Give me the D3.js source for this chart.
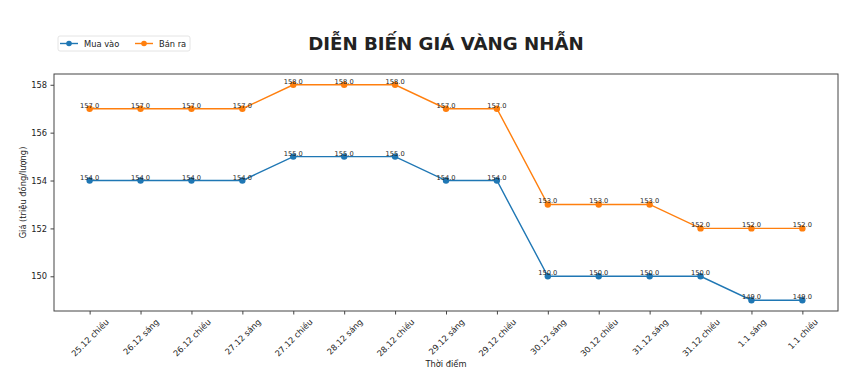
<!DOCTYPE html>
<html lang="vi">
<head>
<meta charset="UTF-8">
<title>Diễn biến giá vàng nhẫn</title>
<script src="https://d3js.org/d3.v7.min.js"></script>
<style>
  body { margin: 0; background: #fff; }
  text { font-family: "DejaVu Sans", sans-serif; fill: #222; }
</style>
</head>
<body>
<script>
const categories = ["25.12 chiều", "26.12 sáng", "26.12 chiều", "27.12 sáng", "27.12 chiều",
  "28.12 sáng", "28.12 chiều", "29.12 sáng", "29.12 chiều", "30.12 sáng", "30.12 chiều",
  "31.12 sáng", "31.12 chiều", "1.1 sáng", "1.1 chiều"];
const muaVao = [154, 154, 154, 154, 155, 155, 155, 154, 154, 150, 150, 150, 150, 149, 149];
const banRa  = [157, 157, 157, 157, 158, 158, 158, 157, 157, 153, 153, 153, 152, 152, 152];
const yTicks = [150, 152, 154, 156, 158];

const width = 868, height = 378;
const m = { left: 54, right: 30, top: 74, bottom: 67 }; // plot box 54..838, 74..311

const svg = d3.select("body").append("svg").attr("width", width).attr("height", height);

// index scale with matplotlib-like 5% padding
const n = categories.length;
const x = d3.scaleLinear().domain([-0.7, n - 1 + 0.7]).range([m.left, width - m.right]);
const y = d3.scaleLinear().domain([148.55, 158.45]).range([height - m.bottom, m.top]);

// axes box
svg.append("rect")
  .attr("x", m.left).attr("y", m.top)
  .attr("width", width - m.left - m.right).attr("height", height - m.top - m.bottom)
  .attr("fill", "none").attr("stroke", "#444").attr("stroke-width", 1);

// y axis
const yAxis = svg.append("g").attr("transform", `translate(${m.left},0)`)
  .call(d3.axisLeft(y).tickValues(yTicks).tickSize(3.5).tickPadding(3.5).tickFormat(d3.format("d")));
yAxis.select(".domain").remove();
yAxis.selectAll("line").attr("stroke", "#444");
yAxis.selectAll("text").attr("font-size", 8.3).attr("font-family", "DejaVu Sans").attr("fill", "#222");

// x axis
const xAxis = svg.append("g").attr("transform", `translate(0,${height - m.bottom})`)
  .call(d3.axisBottom(x).tickValues(d3.range(n)).tickSize(3.5).tickFormat(""));
xAxis.select(".domain").remove();
xAxis.selectAll("line").attr("stroke", "#444");

// rotated tick labels, centered under tick (matplotlib rotation=45)
xAxis.selectAll(".tick").each(function(d) {
  const t = d3.select(this).append("text")
    .attr("font-size", 8.3).attr("fill", "#222")
    .attr("text-anchor", "middle").attr("dominant-baseline", "central")
    .text(categories[d]);
  const w = t.node().getComputedTextLength();
  const bh = (w + 8.3) * Math.SQRT1_2;
  t.attr("transform", `translate(0,${bh / 2 + 6.5}) rotate(-45)`);
});

// axis titles
svg.append("text").attr("x", (m.left + width - m.right) / 2).attr("y", 367)
  .attr("text-anchor", "middle").attr("font-size", 8.3).text("Thời điểm");
svg.append("text")
  .attr("transform", `translate(26,${(m.top + height - m.bottom) / 2}) rotate(-90)`)
  .attr("text-anchor", "middle").attr("font-size", 8.3).text("Giá (triệu đồng/lượng)");

// title
svg.append("text").attr("x", 446).attr("y", 50)
  .attr("text-anchor", "middle").attr("font-size", 18.2).attr("font-weight", "bold")
  .attr("fill", "#000").text("DIỄN BIẾN GIÁ VÀNG NHẪN");

// series
const series = [
  { name: "Mua vào", values: muaVao, color: "#1f77b4" },
  { name: "Bán ra", values: banRa, color: "#ff7f0e" }
];
const line = d3.line().x((d, i) => x(i)).y(d => y(d));

series.forEach(s => {
  const g = svg.append("g");
  g.append("path").datum(s.values).attr("d", line)
    .attr("fill", "none").attr("stroke", s.color).attr("stroke-width", 1.4);
  g.selectAll("circle").data(s.values).join("circle")
    .attr("cx", (d, i) => x(i)).attr("cy", d => y(d)).attr("r", 3.2).attr("fill", s.color);
  g.selectAll("text").data(s.values).join("text")
    .attr("x", (d, i) => x(i)).attr("y", d => y(d) - 1)
    .attr("text-anchor", "middle").attr("font-size", 6.7).attr("fill", "#222")
    .text(d => d.toFixed(1));
});

// legend
const lg = svg.append("g");
lg.append("rect").attr("x", 58).attr("y", 36).attr("width", 132).attr("height", 15)
  .attr("rx", 2).attr("fill", "#fff").attr("stroke", "#ddd").attr("stroke-width", 0.8);
const lx = [60, 135];
series.forEach((s, i) => {
  lg.append("line").attr("x1", lx[i]).attr("x2", lx[i] + 18).attr("y1", 43.5).attr("y2", 43.5)
    .attr("stroke", s.color).attr("stroke-width", 1.4);
  lg.append("circle").attr("cx", lx[i] + 9).attr("cy", 43.5).attr("r", 2.8).attr("fill", s.color);
  lg.append("text").attr("x", lx[i] + 24).attr("y", 46.5).attr("font-size", 8.3).text(s.name);
});
</script>
</body>
</html>
